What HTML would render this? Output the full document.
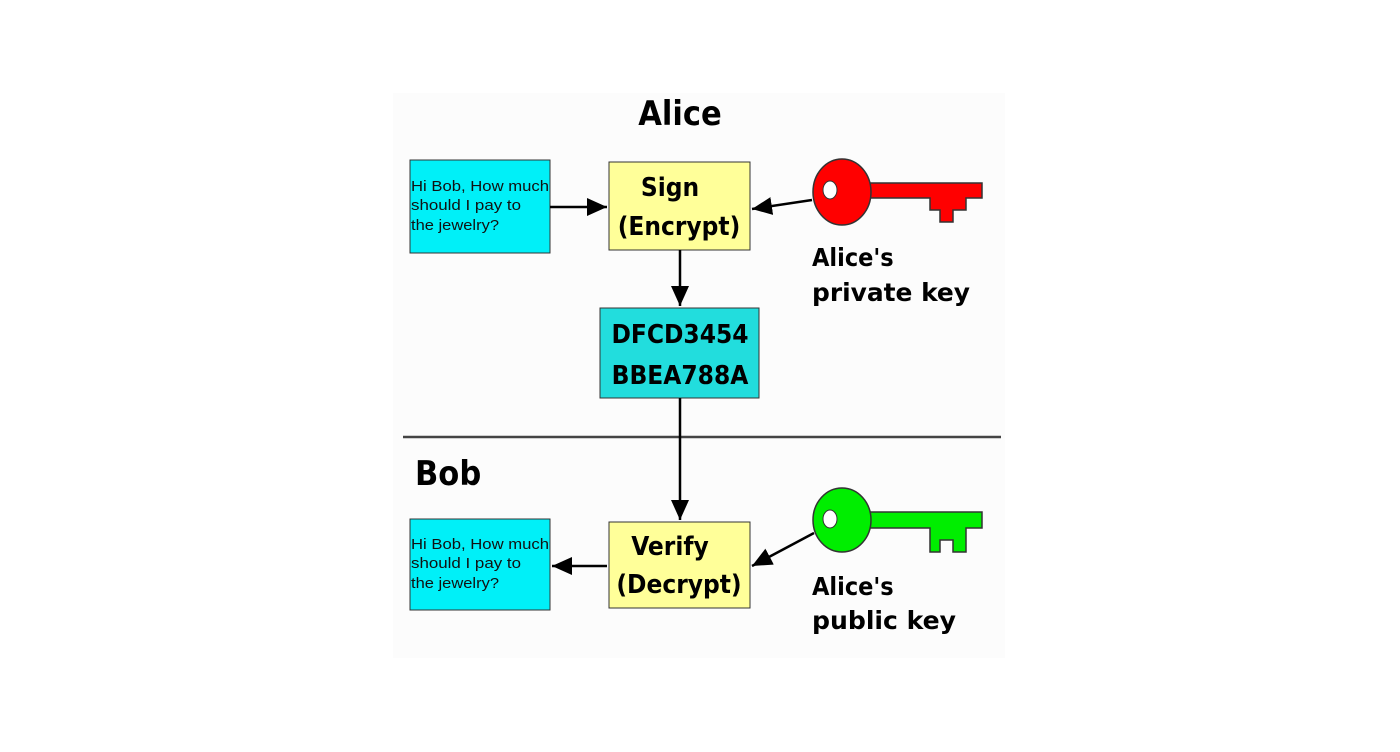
<!DOCTYPE html>
<html><head><style>body{margin:0;background:#fff}svg{display:block}</style></head><body>
<svg width="1400" height="752" viewBox="0 0 1400 752" xmlns="http://www.w3.org/2000/svg" font-family="'DejaVu Sans Condensed','DejaVu Sans','Liberation Sans',sans-serif">
<defs>
<marker id="b" markerWidth="20" markerHeight="18" refX="20" refY="9" orient="auto" markerUnits="userSpaceOnUse"><path d="M0,0L20,9L0,18z" fill="#000"/></marker></defs>
<rect x="393" y="93" width="612" height="565" fill="#fcfcfc"/>
<text x="680" y="125" font-size="34" font-weight="bold" text-anchor="middle">Alice</text>
<rect x="410" y="160" width="140" height="93" fill="#00f0f8" stroke="#333"/>
<g font-family="'Liberation Sans',sans-serif" font-size="14.5" fill="#111"><text x="411" y="191" textLength="138" lengthAdjust="spacingAndGlyphs">Hi Bob, How much</text><text x="411" y="210" textLength="110" lengthAdjust="spacingAndGlyphs">should I pay to</text><text x="411" y="230" textLength="88" lengthAdjust="spacingAndGlyphs">the jewelry?</text></g>
<rect x="609" y="162" width="141" height="88" fill="#ffff99" stroke="#333"/>
<text x="670" y="196" font-size="26" font-weight="bold" text-anchor="middle">Sign</text>
<text x="679" y="235" font-size="26" font-weight="bold" text-anchor="middle">(Encrypt)</text>
<line x1="550" y1="207" x2="607" y2="207" stroke="#000" stroke-width="2.5" marker-end="url(#b)"/>
<line x1="812" y1="200" x2="752" y2="209" stroke="#000" stroke-width="2.5" marker-end="url(#b)"/>
<line x1="680" y1="250" x2="680" y2="306" stroke="#000" stroke-width="2.5" marker-end="url(#b)"/>
<g fill="#ff0000" stroke="#333" stroke-width="1.5"><path d="M868,183H982V198H966V210H953V222H940V210H930V198H868Z"/><ellipse cx="842" cy="192" rx="29" ry="33"/></g>
<ellipse cx="830" cy="190" rx="7" ry="9" fill="#fff" stroke="#333"/>
<text x="812" y="266" font-size="25" font-weight="bold">Alice's</text>
<text x="812" y="301" font-size="25" font-weight="bold" textLength="158" lengthAdjust="spacingAndGlyphs">private key</text>
<rect x="600" y="308" width="159" height="90" fill="#22dddd" stroke="#333"/>
<text x="680" y="343" font-size="26" font-weight="bold" text-anchor="middle">DFCD3454</text>
<text x="680" y="384" font-size="26" font-weight="bold" text-anchor="middle">BBEA788A</text>
<line x1="403" y1="437" x2="1001" y2="437" stroke="#444" stroke-width="2.5"/>
<line x1="680" y1="398" x2="680" y2="520" stroke="#000" stroke-width="2.5" marker-end="url(#b)"/>
<text x="415" y="485" font-size="34" font-weight="bold">Bob</text>
<rect x="410" y="519" width="140" height="91" fill="#00f0f8" stroke="#333"/>
<g font-family="'Liberation Sans',sans-serif" font-size="14.5" fill="#111"><text x="411" y="549" textLength="138" lengthAdjust="spacingAndGlyphs">Hi Bob, How much</text><text x="411" y="568" textLength="110" lengthAdjust="spacingAndGlyphs">should I pay to</text><text x="411" y="588" textLength="88" lengthAdjust="spacingAndGlyphs">the jewelry?</text></g>
<rect x="609" y="522" width="141" height="86" fill="#ffff99" stroke="#333"/>
<text x="670" y="555" font-size="26" font-weight="bold" text-anchor="middle">Verify</text>
<text x="679" y="593" font-size="26" font-weight="bold" text-anchor="middle">(Decrypt)</text>
<line x1="607" y1="566" x2="552" y2="566" stroke="#000" stroke-width="2.5" marker-end="url(#b)"/>
<line x1="814" y1="533" x2="752" y2="566" stroke="#000" stroke-width="2.5" marker-end="url(#b)"/>
<g fill="#00ee00" stroke="#333" stroke-width="1.5"><path d="M868,512H982V528H966V552H953V540H940V552H930V528H868Z"/><ellipse cx="842" cy="520" rx="29" ry="32"/></g>
<ellipse cx="830" cy="519" rx="7" ry="9" fill="#fff" stroke="#333"/>
<text x="812" y="595" font-size="25" font-weight="bold">Alice's</text>
<text x="812" y="629" font-size="25" font-weight="bold" textLength="144" lengthAdjust="spacingAndGlyphs">public key</text>
</svg>
</body></html>
